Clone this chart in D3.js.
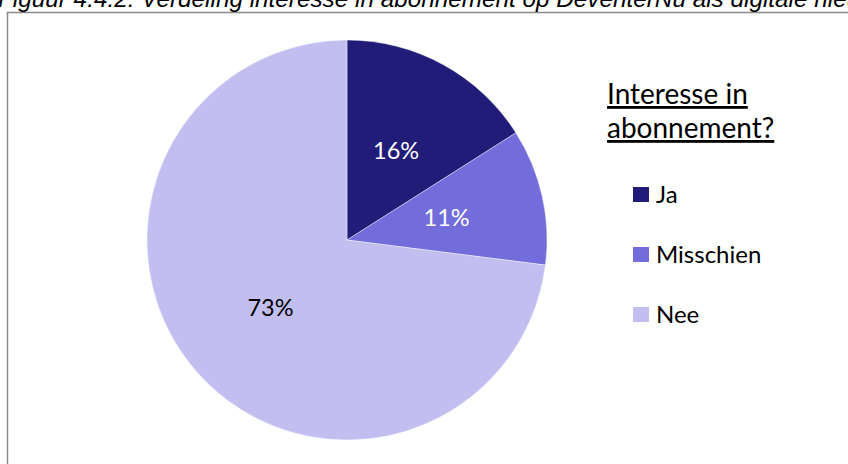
<!DOCTYPE html>
<html>
<head>
<meta charset="utf-8">
<script src="https://cdn.jsdelivr.net/npm/d3@7/dist/d3.min.js"></script>
<style>
  html, body { margin: 0; padding: 0; background: #fff; }
  svg { display: block; }
</style>
</head>
<body>
<svg id="chart" width="848" height="464"></svg>
<script>
const titleText = "Figuur 4.4.2: Verdeling interesse in abonnement op DeventerNu als digitale nieuwsbron";
const categories = ["Ja", "Misschien", "Nee"];
const values = [16, 11, 73];
const colors = ["#221c79", "#736cdb", "#c2bff0"];
const labelColors = ["#ffffff", "#ffffff", "#000000"];
const legendTitle = ["Interesse in", "abonnement?"];

const svg = d3.select("#chart");
const font = "Lato, 'Open Sans', sans-serif";

// frame
svg.append("rect")
  .attr("x", 7.5).attr("y", 12.5)
  .attr("width", 860).attr("height", 470)
  .attr("fill", "#fff")
  .attr("stroke", "#8a8a8a").attr("stroke-width", 1.5);

// caption, cut off at the top edge as in the source
svg.append("text")
  .attr("x", -2).attr("y", 7)
  .attr("font-family", "'Liberation Sans', Arial, sans-serif")
  .attr("font-style", "italic")
  .attr("font-size", 24.3)
  .attr("fill", "#000")
  .text(titleText);

const cx = 347, cy = 240, r = 200;
const pie = d3.pie().sort(null).value(d => d)(values);
const arc = d3.arc().innerRadius(0).outerRadius(r);
const labelArc = d3.arc().innerRadius(102).outerRadius(102);

const g = svg.append("g").attr("transform", `translate(${cx},${cy})`);
g.selectAll("path").data(pie).join("path")
  .attr("d", arc)
  .attr("fill", (d, i) => colors[i])
  .attr("stroke", "#ffffff").attr("stroke-width", 0.4);

g.selectAll("text.lbl").data(pie).join("text")
  .attr("class", "lbl")
  .attr("transform", d => `translate(${labelArc.centroid(d)})`)
  .attr("text-anchor", "middle")
  .attr("dy", "0.35em")
  .attr("font-family", font)
  .attr("font-size", 23.5)
  .attr("fill", (d, i) => labelColors[i])
  .text(d => d.data + "%");

// legend
const lg = svg.append("g");
legendTitle.forEach((t, i) => {
  lg.append("text")
    .attr("x", 607).attr("y", 104 + i * 34)
    .attr("font-family", font)
    .attr("font-size", 28)
    .attr("text-decoration", "underline")
    .attr("fill", "#000")
    .text(t);
});

const ly = d3.scalePoint().domain(categories).range([194.5, 314.5]);
categories.forEach((c, i) => {
  lg.append("rect")
    .attr("x", 633).attr("y", ly(c) - 7.5)
    .attr("width", 16).attr("height", 15)
    .attr("fill", colors[i]);
  lg.append("text")
    .attr("x", 656).attr("y", ly(c) + 8)
    .attr("font-family", font)
    .attr("font-size", 24)
    .attr("fill", "#000")
    .text(c);
});
</script>
</body>
</html>
